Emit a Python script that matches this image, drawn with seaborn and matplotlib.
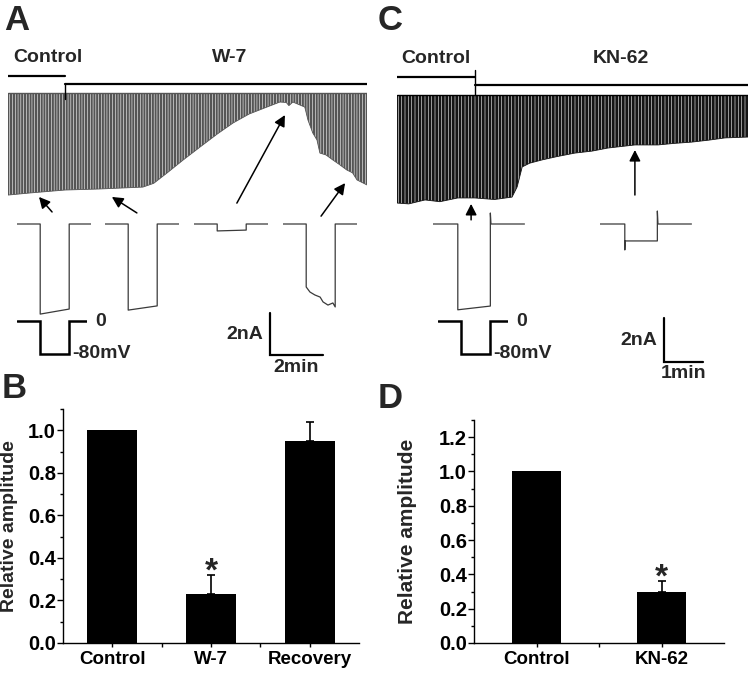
import numpy as np
import pandas as pd
import matplotlib
matplotlib.use('Agg')
import matplotlib.pyplot as plt
from matplotlib.ticker import MultipleLocator, FixedLocator, FormatStrFormatter
import seaborn as sns

sns.set_theme(style='ticks')
plt.rcParams['font.family'] = ['Liberation Sans', 'DejaVu Sans']
plt.rcParams['font.weight'] = 'bold'
plt.rcParams['axes.labelweight'] = 'bold'
plt.rcParams['hatch.linewidth'] = 0.4

## Data

# A: peak current (nA) of each step vs time (min), W-7 applied at a_drug_on
a_time = [0.0, 0.83, 2.15, 3.47, 5.09, 5.5, 6.0, 6.6, 7.25, 7.9, 8.49, 9.1, 9.77, 10.26, 10.5, 10.6, 10.75,
          11.2, 11.32, 11.5, 11.66, 11.77, 12.0, 12.26, 12.5, 12.79, 13.0, 13.17, 13.55]
a_peak = [-4.86, -4.76, -4.62, -4.57, -4.48, -4.3, -3.81, -3.2, -2.57, -1.95, -1.43, -1.0, -0.67, -0.43, -0.45,
          -0.6, -0.43, -0.67, -1.29, -1.9, -2.24, -2.86, -2.95, -3.19, -3.4, -3.67, -3.8, -4.14, -4.38]
a_drug_on = 2.15
a_end = 13.55

# C: peak current (nA) vs time (min), KN-62 applied at c_drug_on
c_time = [0.0, 0.3, 0.72, 1.1, 1.56, 2.0, 2.5, 2.95, 3.08, 3.21, 3.4, 3.72, 4.1, 4.56, 5.0, 5.41, 6.1, 6.69,
          7.1, 7.56, 8.0, 8.41, 9.0]
c_peak = [-4.91, -4.95, -4.77, -4.85, -4.68, -4.68, -4.75, -4.64, -4.18, -3.27, -3.1, -2.95, -2.8, -2.64,
          -2.55, -2.41, -2.27, -2.27, -2.2, -2.14, -2.05, -1.95, -1.91]
c_drug_on = 2.0
c_end = 9.0

# example sweeps (time in ms, current in nA)
a_sweeps = [
    ([0, 80, 80, 180, 180, 255], [0, 0, -4.29, -4.05, 0, 0]),
    ([0, 80, 80, 180, 180, 255], [0, 0, -4.10, -3.90, 0, 0]),
    ([0, 80, 80, 180, 180, 255], [0, 0, -0.33, -0.29, 0, 0]),
    ([0, 80, 80, 93, 110, 128, 138, 155, 172, 180, 180, 255],
     [0, 0, -3.0, -3.24, -3.38, -3.48, -3.71, -3.86, -3.76, -3.95, 0, 0]),
]
c_sweeps = [
    ([0, 80, 80, 185, 185, 187, 295], [0, 0, -3.9, -3.73, 0.5, 0, 0]),
    ([0, 80, 80, 81, 185, 185, 187, 295], [0, 0, -1.18, -0.77, -0.77, 0.59, 0, 0]),
]

# voltage protocol (ms, mV)
prot_t = [0, 80, 80, 180, 180, 240]
prot_v = [0, 0, -80, -80, 0, 0]

# B and D: relative amplitude, mean and SEM, significance
b_groups = ['Control', 'W-7', 'Recovery']
b_means = [1.0, 0.23, 0.95]
b_err = [0.0, 0.09, 0.09]
b_sig = [False, True, False]
d_groups = ['Control', 'KN-62']
d_means = [1.0, 0.30]
d_err = [0.0, 0.06]
d_sig = [False, True]

## Layout helpers (pixel boxes)
W, H = 749, 674
fig = plt.figure(figsize=(W / 100, H / 100), dpi=100)


def px_axes(x0, y0, x1, y1):
    ax = fig.add_axes([x0 / W, 1 - y1 / H, (x1 - x0) / W, (y1 - y0) / H])
    ax.set_axis_off()
    return ax


def trace_axes(box, t0_px, base_px, px_per_x, px_per_y):
    ax = px_axes(*box)
    ax.set_xlim((box[0] - t0_px) / px_per_x, (box[2] - t0_px) / px_per_x)
    ax.set_ylim(-(box[3] - base_px) / px_per_y, (base_px - box[1]) / px_per_y)
    return ax


arrow_kw = dict(arrowstyle='-|>,head_length=0.55,head_width=0.28', color='black', lw=1.1,
                shrinkA=0, shrinkB=0)

## Panel A: time course
axA = trace_axes((8, 40, 367, 200), 8, 93, 26.5, 21)
axA.fill_between(a_time, a_peak, 0, facecolor='#555555', edgecolor='white', hatch='||||||', linewidth=0)
axA.plot(a_time, a_peak, color='#555555', lw=0.6)
axA.plot([0, a_end], [0, 0], color='#555555', lw=1)
axA.plot([0, a_drug_on], [0.81, 0.81], color='black', lw=1.6)
axA.plot([a_drug_on, a_end], [0.43, 0.43], color='black', lw=1.6)
axA.plot([a_drug_on, a_drug_on], [0.43, -0.3], color='black', lw=1)
axA.text(0.19, 1.67, 'Control', fontsize=14, ha='left', va='center')
axA.text(8.38, 1.67, 'W-7', fontsize=14, ha='center', va='center')
for xy, off in [((1.17, -4.95), (9.4, -10.8)), ((3.92, -4.95), (18, -11.5)),
                ((10.45, -1.05), (-34.6, -63.4)), ((12.72, -4.29), (-17.3, -23.8))]:
    axA.annotate('', xy=xy, xytext=off, textcoords='offset points', arrowprops=arrow_kw,
                 annotation_clip=False)
# scale bar 2 nA / 2 min
sbx, sby = 9.89, -10.48
axA.plot([sbx, sbx, sbx + 2], [sby, sby - 2, sby - 2], color='black', lw=1.6, clip_on=False,
         solid_joinstyle='miter')
axA.annotate('2nA', xy=(sbx, sby - 1), xytext=(-5, 0), textcoords='offset points',
             ha='right', va='center', fontsize=14, annotation_clip=False)
axA.annotate('2min', xy=(sbx + 1, sby - 2), xytext=(0, -3), textcoords='offset points',
             ha='center', va='top', fontsize=14, annotation_clip=False)

for (t, i), x0 in zip(a_sweeps, [17, 105, 194, 283]):
    ax = trace_axes((x0, 205, x0 + 74, 330), x0, 224, 0.29, 21)
    ax.plot(t, i, color='#3a3a3a', lw=0.9)

## Panel C: time course
axC = trace_axes((397, 40, 748, 210), 397, 95, 39, 22)
axC.fill_between(c_time, c_peak, 0, facecolor='#151515', edgecolor='white', hatch='|||||', linewidth=0)
axC.plot(c_time, c_peak, color='#151515', lw=0.6)
axC.plot([0, c_end], [0, 0], color='black', lw=1)
axC.plot([0, c_drug_on], [0.82, 0.82], color='black', lw=1.6)
axC.plot([c_drug_on, c_end], [0.45, 0.45], color='black', lw=1.6)
axC.plot([c_drug_on, c_drug_on], [1.14, 0], color='black', lw=1)
axC.text(0.1, 1.68, 'Control', fontsize=14, ha='left', va='center')
axC.text(5.74, 1.68, 'KN-62', fontsize=14, ha='center', va='center')
for xy, off in [((1.90, -4.95), (0, -11.5)), ((6.10, -2.5), (0, -32.4))]:
    axC.annotate('', xy=xy, xytext=off, textcoords='offset points', arrowprops=arrow_kw,
                 annotation_clip=False)
sbx, sby = 6.85, -10.14
axC.plot([sbx, sbx, sbx + 1], [sby, sby - 2, sby - 2], color='black', lw=1.6, clip_on=False,
         solid_joinstyle='miter')
axC.annotate('2nA', xy=(sbx, sby - 1), xytext=(-5, 0), textcoords='offset points',
             ha='right', va='center', fontsize=14, annotation_clip=False)
axC.annotate('1min', xy=(sbx + 0.5, sby - 2), xytext=(0, -2), textcoords='offset points',
             ha='center', va='top', fontsize=14, annotation_clip=False)

for (t, i), x0 in zip(c_sweeps, [433, 600]):
    ax = trace_axes((x0, 205, x0 + 92, 330), x0, 224, 0.31, 22)
    ax.plot(t, i, color='#3a3a3a', lw=0.9)

## voltage protocols
for x0 in [17, 438]:
    ax = trace_axes((x0, 310, x0 + 70, 365), x0, 321, 0.29, 33 / 80)
    ax.plot(prot_t, prot_v, color='black', lw=1.8, solid_joinstyle='miter')
    ax.annotate('0', xy=(prot_t[-1], 0), xytext=(6, 0), textcoords='offset points',
                ha='left', va='center', fontsize=14)
    ax.annotate('-80mV', xy=(prot_t[3], -80), xytext=(2.5, 0), textcoords='offset points',
                ha='left', va='center', fontsize=14)


## Bar panels
def bar_panel(box, groups, means, err, sig, width, ymax, label_x, label_size):
    x0, y0, x1, y1 = box
    ax = fig.add_axes([x0 / W, 1 - y1 / H, (x1 - x0) / W, (y1 - y0) / H])
    df = pd.DataFrame({'group': groups, 'value': means})
    sns.barplot(data=df, x='group', y='value', color='black', saturation=1, width=width,
                linewidth=0, ax=ax)
    pos = np.arange(len(groups))
    has_err = np.array(err) > 0
    ax.errorbar(pos[has_err], np.array(means)[has_err],
                yerr=[np.zeros(has_err.sum()), np.array(err)[has_err]], fmt='none',
                ecolor='black', elinewidth=1.2, capsize=3, capthick=1.2)
    for p, m, e, s in zip(pos, means, err, sig):
        if s:
            ax.annotate('*', xy=(p, m + e), xytext=(0, -4), textcoords='offset points',
                        ha='center', va='baseline', fontsize=24)
    sns.despine(ax=ax)
    ax.set_facecolor('white')
    ax.grid(False)
    ax.set_xlim(-0.5, len(groups) - 0.5)
    ax.set_ylim(0, ymax)
    ax.yaxis.set_major_locator(MultipleLocator(0.2))
    ax.yaxis.set_minor_locator(MultipleLocator(0.1))
    ax.yaxis.set_major_formatter(FormatStrFormatter('%.1f'))
    ax.xaxis.set_minor_locator(FixedLocator(pos[:-1] + 0.5))
    for sp in ['left', 'bottom']:
        ax.spines[sp].set_color('black')
        ax.spines[sp].set_linewidth(1.0)
    ax.tick_params(axis='y', which='major', length=4, width=1, pad=1, labelsize=14.5, colors='black')
    ax.tick_params(axis='y', which='minor', left=True, length=2.2, width=1, colors='black')
    ax.tick_params(axis='x', which='major', length=3, width=1, pad=3, labelsize=13.5, colors='black')
    ax.tick_params(axis='x', which='minor', bottom=True, length=3, width=1, colors='black')
    ax.set_xlabel('')
    ax.set_ylabel('Relative amplitude', fontsize=label_size)
    ax.yaxis.set_label_coords(label_x, 0.5)
    return ax


bar_panel((63, 409, 359, 643), b_groups, b_means, b_err, b_sig, 0.51, 1.10, -0.152, 14)
bar_panel((474, 420, 724, 643), d_groups, d_means, d_err, d_sig, 0.39, 1.30, -0.228, 15)

## panel letters
for letter, x, y in [('A', 4, 30), ('C', 378, 30), ('B', 2, 398), ('D', 378, 408)]:
    fig.text(x / W, 1 - y / H, letter, fontsize=25, ha='left', va='baseline')

fig.savefig('out.png', dpi=100, facecolor='white')
